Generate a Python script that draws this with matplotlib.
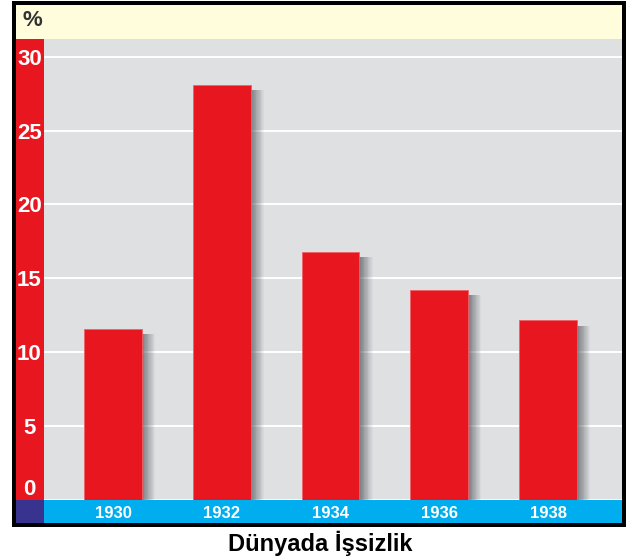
import matplotlib.pyplot as plt
from matplotlib.patches import Rectangle

years = ["1930", "1932", "1934", "1936", "1938"]
rates = [11.6, 28.1, 16.8, 14.2, 12.15]
yticks = [0, 5, 10, 15, 20, 25, 30]

W, H = 636, 558
RED = "#E8171F"
GREY = "#DFE0E2"
CREAM = "#FFFDDC"
BLUE = "#00ADEF"
NAVY = "#37338F"


def box(x0, y0, x1, y1):
    # pixel coords from the top-left -> figure fraction
    return [x0 / W, 1 - y1 / H, (x1 - x0) / W, (y1 - y0) / H]


fig = plt.figure(figsize=(W / 100, H / 100), dpi=100)

# frame and coloured bands (behind the axes)
panels = [
    ((12, 1, 626, 527), "black"),
    ((16, 5, 622, 39), CREAM),
    ((16, 39, 44, 500), RED),
    ((16, 500, 44, 523), NAVY),
    ((44, 500, 622, 523), BLUE),
]
for (x0, y0, x1, y1), c in panels:
    l, b, w, h = box(x0, y0, x1, y1)
    fig.patches.append(Rectangle((l, b), w, h, transform=fig.transFigure,
                                 facecolor=c, edgecolor="none", zorder=-5))

ax = fig.add_axes(box(44, 39, 622, 500))
ax.set_facecolor(GREY)
x = list(range(len(years)))
bw = 0.533

# drop shadow on the right of each bar
n = 16
sw = 0.12
for i in range(n):
    a = 0.7 * (1 - i / n)
    ax.bar([p + bw / 2 + i * sw / n for p in x],
           [r - 0.35 for r in rates], width=sw / n, align="edge",
           color="#50535a", alpha=a, linewidth=0, zorder=2)

ax.bar(x, rates, width=bw, color=RED, edgecolor="#F06068",
       linewidth=0.6, zorder=3)

ax.set_xlim(-0.634, 4.68)
ax.set_ylim(0, 31.2)
for v in yticks:
    ax.axhline(v, color="white", linewidth=1.4, zorder=1)

for s in ax.spines.values():
    s.set_visible(False)

ax.set_yticks(yticks)
ax.set_yticklabels([str(v) for v in yticks], color="white",
                   fontsize=16, fontweight="bold", family="Liberation Sans")
ax.tick_params(axis="y", length=0, pad=10.5)
for t in ax.get_yticklabels():
    t.set_ha("center")
ax.get_yticklabels()[0].set_va("bottom")

ax.set_xticks(x)
ax.set_xticklabels(years, color="white", fontsize=12, fontweight="bold",
                   family="Liberation Sans")
ax.tick_params(axis="x", length=0, pad=4)

fig.text(32 / W, 1 - 21 / H, "%", ha="center", va="center", fontsize=16,
         fontweight="bold", color="#333333", family="Liberation Sans")
fig.text(320 / W, 1 - 543 / H, "Dünyada İşsizlik", ha="center",
         va="center", fontsize=17, fontweight="bold", color="black",
         family="Liberation Sans")

fig.savefig("out.png", dpi=100)
